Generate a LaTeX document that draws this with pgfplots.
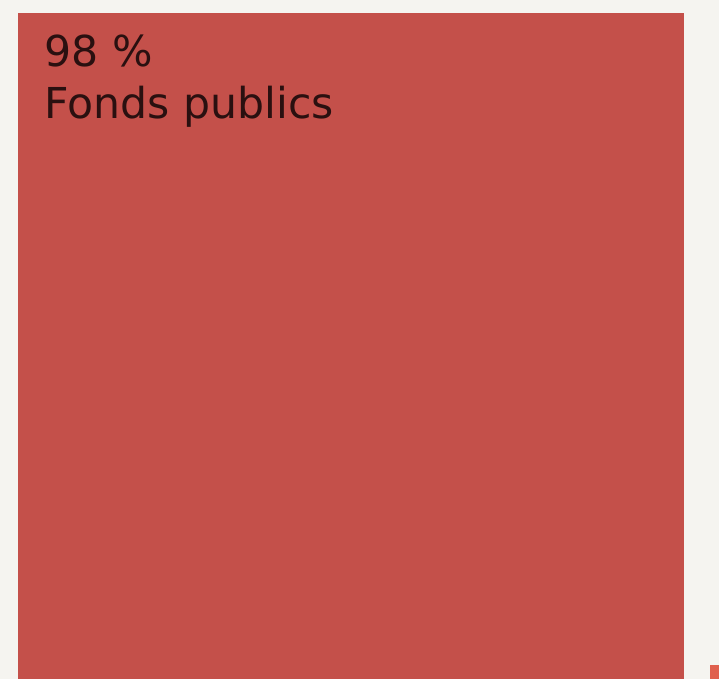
\documentclass[border=0pt]{standalone}
\usepackage{pgfplots}
\pgfplotsset{compat=1.18}
\usepackage{fontspec}
\setmainfont{DejaVu Sans}
\definecolor{bg}{HTML}{F5F4F0}
\definecolor{c1}{HTML}{C4504A}
\definecolor{c2}{HTML}{E0604E}
\definecolor{txt}{HTML}{2A1010}
\begin{document}
\begin{tikzpicture}
\begin{axis}[
  width=719pt, height=679pt, scale only axis,
  xmin=0, xmax=719, ymin=0, ymax=679, y dir=reverse,
  axis lines=none, clip=true,
]
\fill[bg] (axis cs:0,0) rectangle (axis cs:719,679);
\addplot[fill=c1, draw=none] coordinates {(18,13) (684,13) (684,679) (18,679)} -- cycle;
\addplot[fill=c2, draw=none] coordinates {(710,665) (719,665) (719,679) (710,679)} -- cycle;
\node[anchor=north west, align=left, text=txt, inner sep=0pt,
  font=\fontsize{42.6}{52.5}\selectfont] at (axis cs:44.5,34.5) {98 \%\\Fonds publics};
\end{axis}
\end{tikzpicture}
\end{document}
